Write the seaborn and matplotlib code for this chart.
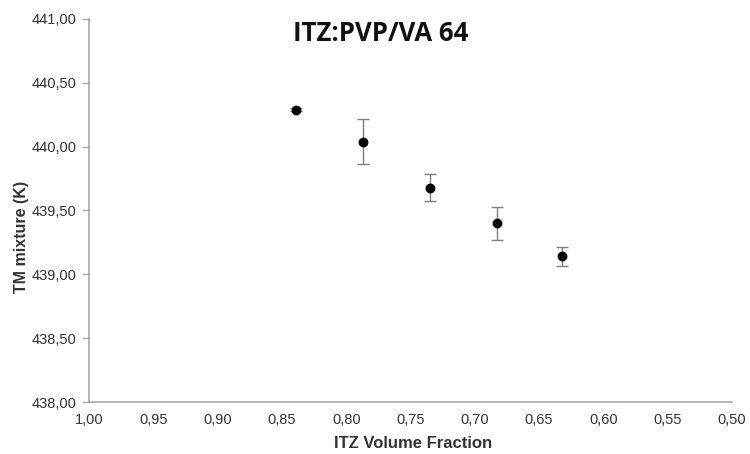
import matplotlib
matplotlib.use("Agg")
import matplotlib.pyplot as plt
from matplotlib.ticker import FuncFormatter, MultipleLocator
from matplotlib import font_manager
import seaborn as sns
import pandas as pd

# ITZ volume fraction vs. mixture melting temperature
volume_fraction = [0.839, 0.787, 0.735, 0.683, 0.632]
tm_mixture = [440.29, 440.04, 439.68, 439.40, 439.14]
tm_error = [0.012, 0.175, 0.105, 0.13, 0.072]

df = pd.DataFrame({"frac": volume_fraction, "tm": tm_mixture, "err": tm_error})

sns.set_theme(style="white")
plt.rcParams["font.family"] = ["Liberation Sans", "DejaVu Sans"]

installed = {f.name for f in font_manager.fontManager.ttflist}
label_family = ["Liberation Sans Narrow"] if "Liberation Sans Narrow" in installed else ["Liberation Sans"]

fig = plt.figure(figsize=(7.5, 4.54), dpi=100)
ax = fig.add_axes([0.1187, 0.1145, 0.8573, 0.8437])

ax.errorbar(df["frac"], df["tm"], yerr=df["err"], fmt="none",
            ecolor="#7f7f7f", elinewidth=1.0, capsize=4.5, capthick=1.0, zorder=2)
sns.scatterplot(data=df, x="frac", y="tm", ax=ax, color="black", s=50,
                edgecolor="black", linewidth=0, zorder=3)

ax.set_xlim(1.0, 0.5)
ax.set_ylim(438.0, 441.0)
ax.xaxis.set_major_locator(MultipleLocator(0.05))
ax.yaxis.set_major_locator(MultipleLocator(0.5))
comma = FuncFormatter(lambda v, p: f"{v:.2f}".replace(".", ","))
ax.xaxis.set_major_formatter(comma)
ax.yaxis.set_major_formatter(comma)

for side in ("top", "right"):
    ax.spines[side].set_visible(False)
for side in ("left", "bottom"):
    ax.spines[side].set_color("#a6a6a6")
    ax.spines[side].set_linewidth(1.2)

ax.tick_params(axis="y", which="major", left=True, length=5, width=1.0,
               color="#a6a6a6", labelsize=10.5, labelcolor="#333333", pad=4)
ax.tick_params(axis="x", which="major", bottom=False, labelsize=10.5,
               labelcolor="#333333", pad=2)

ax.set_xlabel("ITZ Volume Fraction", fontsize=12, fontweight="bold",
              color="#333333", family=label_family)
ax.set_ylabel("TM mixture (K)", fontsize=11.5, fontweight="bold",
              color="#333333", family=label_family)
ax.xaxis.set_label_coords(0.504, -0.089)
ax.yaxis.set_label_coords(-0.094, 0.431)

fig.text(0.507, 0.926, "ITZ:PVP/VA 64", ha="center", va="center",
         fontsize=18.5, fontweight="bold", family=["Open Sans", "DejaVu Sans"],
         color="#111111")

fig.savefig("out.png", dpi=100)
